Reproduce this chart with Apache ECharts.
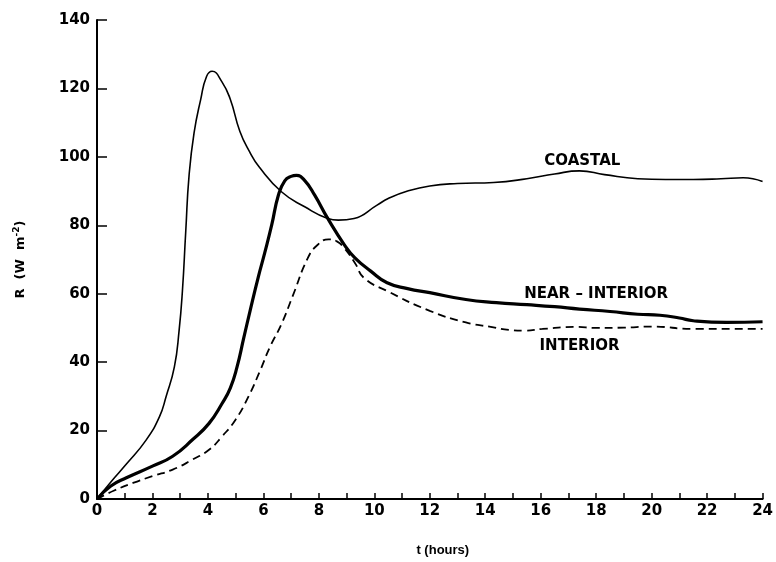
<!DOCTYPE html>
<html>
<head>
<meta charset="utf-8">
<script src="https://cdn.jsdelivr.net/npm/echarts@6/dist/echarts.min.js"></script>
<style>
  html, body { margin: 0; padding: 0; background: #fff; }
  #chart { width: 776px; height: 562px; }
</style>
</head>
<body>
<div id="chart"></div>
<script>
// Net radiation R (W m^-2) against time t (hours) for three sites.
const coastalT = [0, 0.5, 1.06, 1.77, 2.25, 2.49, 2.79, 2.96, 3.08, 3.2, 3.32, 3.5, 3.74, 3.95, 4.15, 4.5, 4.8, 5.15, 5.5, 5.85, 6.65, 7.49, 8.32, 8.7, 9.27, 10.1, 10.5, 11.2, 12, 13, 14.3, 15.5, 16.5, 17.4, 18.3, 19.5, 20.5, 21.5, 22.5, 23.3, 24];
const coastalR = [0, 5, 10.2, 17.2, 24, 29.9, 38.6, 49.2, 60.8, 78.2, 94.6, 107, 116.8, 123.5, 125, 122, 117, 107.5, 101.5, 97, 89.8, 85.4, 82, 81.5, 82, 85.9, 87.8, 90, 91.5, 92.2, 92.5, 93.6, 95, 95.9, 94.8, 93.6, 93.4, 93.4, 93.6, 93.9, 92.8];

const nearT = [0, 0.5, 1.06, 2.0, 2.73, 3.44, 4.04, 4.51, 4.81, 5.05, 5.29, 5.52, 5.82, 6.05, 6.3, 6.54, 6.77, 7.0, 7.19, 7.5, 7.85, 8.32, 8.92, 9.3, 9.87, 10.46, 11.2, 12, 13.3, 14.4, 15.5, 16.5, 17.4, 18.5, 19.5, 20.3, 21, 21.5, 22.7, 24];
const nearR = [0, 3.8, 6.2, 9.6, 12.5, 17.3, 22.1, 27.9, 32.5, 38.6, 47, 55, 65, 72, 80.1, 88.8, 93, 94.3, 94.6, 93, 88.8, 82, 74.3, 70.5, 66.6, 63.2, 61.5, 60.3, 58.3, 57.4, 56.8, 56.2, 55.5, 54.8, 54, 53.7, 52.9, 52.1, 51.6, 51.8];

const interiorT = [0, 0.6, 1.3, 2.01, 2.73, 3.44, 4.04, 4.51, 4.99, 5.46, 5.88, 6.24, 6.65, 7.07, 7.6, 7.96, 8.35, 8.65, 8.92, 9.3, 9.63, 10.46, 12, 13.3, 14.2, 14.87, 15.4, 16.06, 17.25, 18, 19, 20, 21.5, 24];
const interiorR = [0, 2.4, 4.7, 6.7, 8.6, 11.5, 14.4, 18.3, 23.1, 29.9, 37.5, 44.5, 51.1, 59.6, 70.4, 74.3, 75.9, 75.3, 73.3, 69, 64.6, 60.8, 55, 51.6, 50.3, 49.4, 49.2, 49.7, 50.3, 50, 50.1, 50.4, 49.7, 49.7];

const xTicks = [0, 2, 4, 6, 8, 10, 12, 14, 16, 18, 20, 22, 24];
const yTicks = [0, 20, 40, 60, 80, 100, 120, 140];

const pairs = (xs, ys) => xs.map((x, i) => [x, ys[i]]);
const FONT = 'DejaVu Sans';

const chart = echarts.init(document.getElementById('chart'), null, { renderer: 'canvas' });

function tagAt(text, coord) {
  return {
    symbol: 'circle', symbolSize: 0,
    data: [{ coord: coord, value: text }],
    label: {
      show: true, position: 'inside', formatter: text,
      color: '#000', fontFamily: FONT, fontWeight: 'bold', fontSize: 15
    }
  };
}

const curve = { type: 'line', smooth: 0.5, showSymbol: false, symbol: 'none' };

chart.setOption({
  animation: false,
  backgroundColor: '#fff',
  grid: { left: 97, right: 7, top: 20, bottom: 59 },
  xAxis: {
    type: 'value', min: 0, max: 24, interval: 1,
    name: 't (hours)', nameLocation: 'middle', nameGap: 45,
    nameTextStyle: { color: '#000', fontFamily: 'Liberation Sans', fontWeight: 'bold', fontSize: 13, padding: [0, 0, 0, 26] },
    axisLine: { lineStyle: { color: '#000', width: 2 } },
    axisTick: { inside: true, length: 6, lineStyle: { color: '#000', width: 1.5 } },
    axisLabel: {
      color: '#000', fontFamily: FONT, fontWeight: 'bold', fontSize: 15, margin: 5,
      formatter: v => (xTicks.indexOf(v) >= 0 ? String(v) : '')
    },
    splitLine: { show: false }
  },
  yAxis: {
    type: 'value', min: 0, max: 140, interval: 20,
    name: '{a|R  (W  m}{s|-2}{a|)}', nameLocation: 'middle', nameGap: 68,
    nameTextStyle: {
      rich: {
        a: { color: '#000', fontFamily: FONT, fontWeight: 'bold', fontSize: 13 },
        s: { color: '#000', fontFamily: FONT, fontWeight: 'bold', fontSize: 9, verticalAlign: 'top', padding: [0, 0, 8, 0] }
      }
    },
    axisLine: { show: true, lineStyle: { color: '#000', width: 2 } },
    axisTick: { show: true, inside: true, length: 10, lineStyle: { color: '#000', width: 1.5 } },
    axisLabel: {
      color: '#000', fontFamily: FONT, fontWeight: 'bold', fontSize: 15, margin: 7,
      formatter: v => (yTicks.indexOf(v) >= 0 ? String(v) : '')
    },
    splitLine: { show: false }
  },
  series: [
    Object.assign({}, curve, {
      name: 'COASTAL', data: pairs(coastalT, coastalR),
      lineStyle: { color: '#000', width: 1.6 },
      markPoint: tagAt('COASTAL', [17.5, 98.8])
    }),
    Object.assign({}, curve, {
      name: 'NEAR – INTERIOR', data: pairs(nearT, nearR),
      lineStyle: { color: '#000', width: 3.2 },
      markPoint: tagAt('NEAR – INTERIOR', [18.0, 60])
    }),
    Object.assign({}, curve, {
      name: 'INTERIOR', data: pairs(interiorT, interiorR),
      lineStyle: { color: '#000', width: 1.8, type: [8, 5] },
      markPoint: tagAt('INTERIOR', [17.4, 44.8])
    })
  ]
});
</script>
</body>
</html>
